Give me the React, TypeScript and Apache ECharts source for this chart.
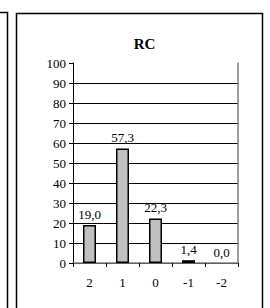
import React, { useEffect, useRef } from "react";
import * as echarts from "echarts";

const categories = ["2", "1", "0", "-1", "-2"];
const values = [19.0, 57.3, 22.3, 1.4, 0.0];
const titleText = "RC";

const FONT = "Liberation Serif";

export default function App() {
  const ref = useRef<HTMLDivElement>(null);
  useEffect(() => {
    if (!ref.current) return;
    const chart = echarts.init(ref.current, undefined, { renderer: "svg" });
    chart.setOption({
      animation: false,
      backgroundColor: "#fff",
      textStyle: { fontFamily: FONT },
      title: {
        text: titleText,
        left: 139.5,
        top: 31,
        textAlign: "center",
        textStyle: { fontFamily: FONT, fontSize: 15, fontWeight: "bold", color: "#000" },
      },
      graphic: [
        {
          type: "rect",
          shape: { x: 16.5, y: 13.5, width: 246, height: 320 },
          style: { fill: "none", stroke: "#000", lineWidth: 1.5 },
          silent: true,
          z: -1,
        },
        {
          type: "polyline",
          shape: { points: [[0, 12.5], [7.5, 12.5], [7.5, 320]] },
          style: { fill: "none", stroke: "#000", lineWidth: 1.5 },
          silent: true,
        },
      ],
      grid: { left: 73, right: 32, top: 63, bottom: 45, containLabel: false },
      xAxis: [
        {
          type: "category",
          data: categories,
          boundaryGap: true,
          axisLine: { lineStyle: { color: "#000", width: 1 } },
          axisTick: { show: true, length: 4, inside: false, lineStyle: { color: "#000" } },
          axisLabel: { color: "#000", fontSize: 13, fontFamily: FONT, margin: 13 },
          splitLine: { show: false },
        },
        {
          type: "category",
          data: categories,
          position: "top",
          axisLine: { lineStyle: { color: "#808080", width: 1.5 } },
          axisTick: { show: false },
          axisLabel: { show: false },
        },
      ],
      yAxis: [
        {
          type: "value",
          min: 0,
          max: 100,
          interval: 10,
          axisLine: { show: true, lineStyle: { color: "#000", width: 1 } },
          axisTick: { show: true, length: 4, lineStyle: { color: "#000" } },
          axisLabel: { color: "#000", fontSize: 13, fontFamily: FONT, margin: 7 },
          splitLine: { show: true, showMinLine: false, showMaxLine: false, lineStyle: { color: "#000", width: 1 } },
        },
        {
          type: "value",
          min: 0,
          max: 100,
          interval: 10,
          position: "right",
          axisLine: { show: true, lineStyle: { color: "#808080", width: 1.5 } },
          axisTick: { show: false },
          axisLabel: { show: false },
          splitLine: { show: false },
        },
      ],
      series: [
        {
          type: "bar",
          data: values.map((v) => (v === 0 ? { value: v, itemStyle: { borderWidth: 0 } } : v)),
          barWidth: 13,
          itemStyle: { color: "#C0C0C0", borderColor: "#000", borderWidth: 1.5 },
          label: {
            show: true,
            position: "top",
            distance: 4,
            color: "#000",
            fontSize: 13,
            fontFamily: FONT,
            formatter: (p: any) => Number(p.value).toFixed(1).replace(".", ","),
          },
        },
      ],
    });
    return () => chart.dispose();
  }, []);
  return (
    <div
      ref={ref}
      style={{ position: "absolute", left: 0, top: 0, width: 270, height: 308 }}
    />
  );
}
